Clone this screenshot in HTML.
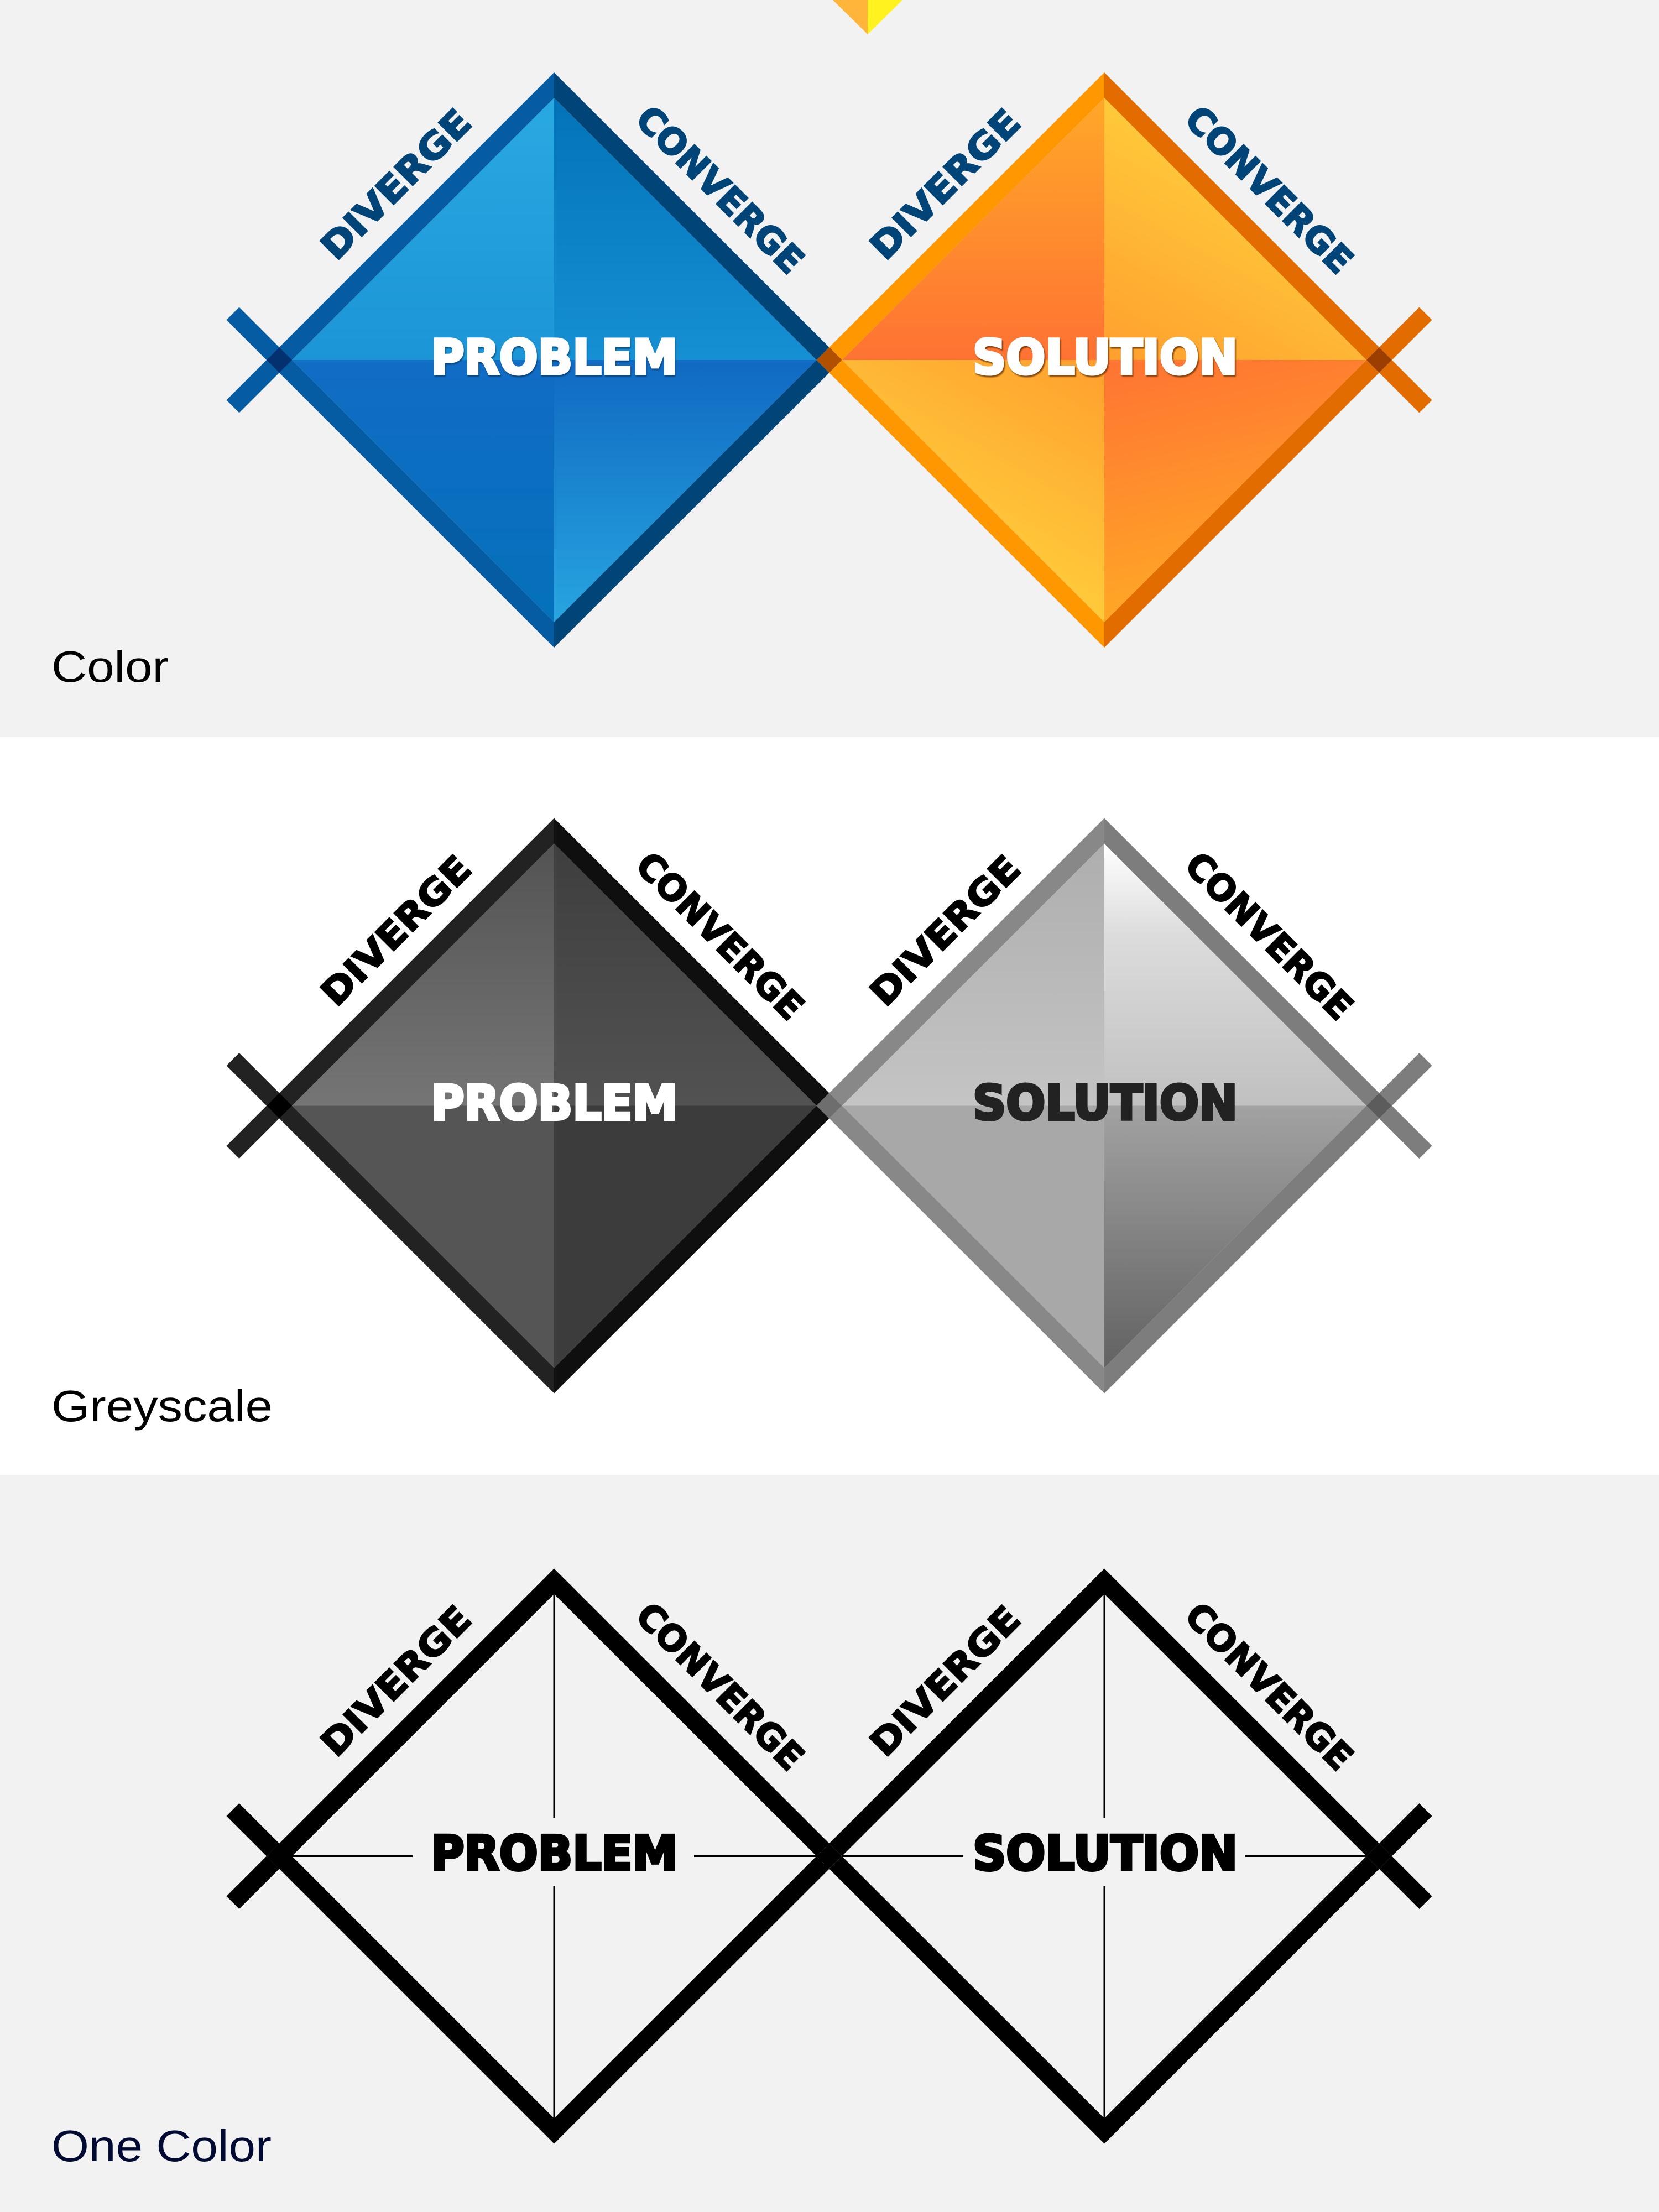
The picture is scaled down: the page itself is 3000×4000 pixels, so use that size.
<!DOCTYPE html>
<html>
<head>
<meta charset="utf-8">
<style>
html,body{margin:0;padding:0;background:#fff}
svg{display:block}
.h{font-family:"DejaVu Sans","Liberation Sans",sans-serif;font-weight:700;font-size:86.5px;stroke-width:5px;stroke-linejoin:miter}
.r{font-family:"DejaVu Sans","Liberation Sans",sans-serif;font-weight:700;font-size:65px;stroke-width:2.5px;stroke-linejoin:miter}
.c{font-family:"Liberation Sans",Arial,sans-serif;font-size:80px}
</style>
</head>
<body>
<svg xmlns="http://www.w3.org/2000/svg" width="3000" height="4000" viewBox="0 0 3000 4000">
<defs>
<linearGradient id="bTL" gradientUnits="userSpaceOnUse" x1="0" y1="177" x2="0" y2="651"><stop offset="0" stop-color="#29a9e2"/><stop offset="1" stop-color="#1c95d6"/></linearGradient>
<linearGradient id="bTR" gradientUnits="userSpaceOnUse" x1="0" y1="177" x2="0" y2="651"><stop offset="0" stop-color="#0373b9"/><stop offset="1" stop-color="#1590d2"/></linearGradient>
<linearGradient id="bBL" gradientUnits="userSpaceOnUse" x1="0" y1="651" x2="0" y2="1125"><stop offset="0" stop-color="#116cc4"/><stop offset="1" stop-color="#0471bb"/></linearGradient>
<linearGradient id="bBR" gradientUnits="userSpaceOnUse" x1="0" y1="651" x2="0" y2="1125"><stop offset="0" stop-color="#1069c2"/><stop offset="1" stop-color="#27a5e0"/></linearGradient>
<linearGradient id="oTL" gradientUnits="userSpaceOnUse" x1="0" y1="177" x2="0" y2="651"><stop offset="0" stop-color="#ffa828"/><stop offset="1" stop-color="#ff7233"/></linearGradient>
<linearGradient id="oTR" gradientUnits="userSpaceOnUse" x1="2197" y1="287" x2="1997" y2="651"><stop offset="0" stop-color="#ffc93a"/><stop offset="1" stop-color="#ff9f2e"/></linearGradient>
<linearGradient id="oBL" gradientUnits="userSpaceOnUse" x1="1997" y1="651" x2="1800" y2="1000"><stop offset="0" stop-color="#ff9f2e"/><stop offset="1" stop-color="#ffc93a"/></linearGradient>
<linearGradient id="oBR" gradientUnits="userSpaceOnUse" x1="1997" y1="651" x2="2100" y2="1100"><stop offset="0" stop-color="#ff7333"/><stop offset="1" stop-color="#ffa726"/></linearGradient>
<linearGradient id="gTL" gradientUnits="userSpaceOnUse" x1="0" y1="177" x2="0" y2="651"><stop offset="0" stop-color="#535353"/><stop offset="1" stop-color="#757575"/></linearGradient>
<linearGradient id="gTR" gradientUnits="userSpaceOnUse" x1="0" y1="177" x2="0" y2="651"><stop offset="0" stop-color="#3e3e3e"/><stop offset="1" stop-color="#525252"/></linearGradient>
<linearGradient id="hTL" gradientUnits="userSpaceOnUse" x1="0" y1="177" x2="0" y2="651"><stop offset="0" stop-color="#aeaeae"/><stop offset="1" stop-color="#c4c4c4"/></linearGradient>
<linearGradient id="hTR" gradientUnits="userSpaceOnUse" x1="0" y1="177" x2="0" y2="651"><stop offset="0" stop-color="#ffffff"/><stop offset="0.35" stop-color="#dcdcdc"/><stop offset="1" stop-color="#c0c0c0"/></linearGradient>
<linearGradient id="hBR" gradientUnits="userSpaceOnUse" x1="0" y1="651" x2="0" y2="1125"><stop offset="0" stop-color="#a2a2a2"/><stop offset="1" stop-color="#626262"/></linearGradient>
</defs>

<rect x="0" y="0" width="3000" height="1333" fill="#f2f2f2"/>
<rect x="0" y="1333" width="3000" height="1334" fill="#ffffff"/>
<rect x="0" y="2667" width="3000" height="1333" fill="#f2f2f2"/>

<polygon points="1506,0 1569,62 1569,0" fill="#ffb53a"/>
<polygon points="1569,0 1569,62 1632,0" fill="#fff21f"/>

<!-- COLOR -->
<g>
<polygon points="1002,651 1002,177 528,651" fill="url(#bTL)"/>
<polygon points="1002,651 1002,177 1476.5,651" fill="url(#bTR)"/>
<polygon points="1002,651 528,651 1002,1125" fill="url(#bBL)"/>
<polygon points="1002,651 1476.5,651 1002,1125" fill="url(#bBR)"/>
<polygon points="1997,651 1997,177 1522.5,651" fill="url(#oTL)"/>
<polygon points="1997,651 1997,177 2471,651" fill="url(#oTR)"/>
<polygon points="1997,651 1522.5,651 1997,1125" fill="url(#oBL)"/>
<polygon points="1997,651 2471,651 1997,1125" fill="url(#oBR)"/>
<polygon points="1002,131 1002,177 528,651 1002,1125 1002,1171 505,674 482,651 505,628" fill="#055ca2"/>
<polygon points="505,628 482,651 409.5,578.5 432.5,555.5" fill="#055ca2"/>
<polygon points="505,674 482,651 409.5,723.5 432.5,746.5" fill="#055ca2"/>
<polygon points="1002,131 1499.5,628 1476.5,651 1499.5,674 1002,1171 1002,1125 1476.5,651 1002,177" fill="#004478"/>
<polygon points="1997,131 1997,177 1522.5,651 1997,1125 1997,1171 1499.5,674 1522.5,651 1499.5,628" fill="#ff9800"/>
<polygon points="1997,131 2494,628 2471,651 2494,674 1997,1171 1997,1125 2471,651 1997,177" fill="#e36c00"/>
<polygon points="2494,628 2517,651 2589.5,578.5 2566.5,555.5" fill="#e36c00"/>
<polygon points="2494,674 2517,651 2589.5,723.5 2566.5,746.5" fill="#e36c00"/>
<polygon points="482,651 505,628 528,651 505,674" fill="#03316f"/>
<polygon points="1476.5,651 1499.5,628 1522.5,651 1499.5,674" fill="#b05000"/>
<polygon points="2471,651 2494,628 2517,651 2494,674" fill="#9c3e00"/>
<text class="h" x="779.5" y="676.2" textLength="446" lengthAdjust="spacingAndGlyphs" fill="#fff" stroke="#fff" style="filter:drop-shadow(1px 3px 1px rgba(0,50,100,.65))">PROBLEM</text>
<text class="h" x="1759" y="676.2" textLength="479" lengthAdjust="spacingAndGlyphs" fill="#fff" stroke="#fff" style="filter:drop-shadow(2px 3px 1px rgba(110,50,0,.8))">SOLUTION</text>
<g fill="#004478" stroke="#004478">
<text class="r" transform="translate(608,473.5) rotate(-45)" textLength="351" lengthAdjust="spacingAndGlyphs">DIVERGE</text>
<text class="r" transform="translate(1146,219) rotate(45)" textLength="396" lengthAdjust="spacingAndGlyphs">CONVERGE</text>
<text class="r" transform="translate(1601,473.5) rotate(-45)" textLength="351" lengthAdjust="spacingAndGlyphs">DIVERGE</text>
<text class="r" transform="translate(2139,219) rotate(45)" textLength="396" lengthAdjust="spacingAndGlyphs">CONVERGE</text>
</g>
</g>
<text class="c" x="93" y="1233" textLength="212" lengthAdjust="spacingAndGlyphs" fill="#000">Color</text>

<!-- GREYSCALE -->
<g transform="translate(0,1348.5)">
<polygon points="1002,651 1002,177 528,651" fill="url(#gTL)"/>
<polygon points="1002,651 1002,177 1476.5,651" fill="url(#gTR)"/>
<polygon points="1002,651 528,651 1002,1125" fill="#555555"/>
<polygon points="1002,651 1476.5,651 1002,1125" fill="#3c3c3c"/>
<polygon points="1997,651 1997,177 1522.5,651" fill="url(#hTL)"/>
<polygon points="1997,651 1997,177 2471,651" fill="url(#hTR)"/>
<polygon points="1997,651 1522.5,651 1997,1125" fill="#a8a8a8"/>
<polygon points="1997,651 2471,651 1997,1125" fill="url(#hBR)"/>
<polygon points="1002,131 1002,177 528,651 1002,1125 1002,1171 505,674 482,651 505,628" fill="#222222"/>
<polygon points="505,628 482,651 409.5,578.5 432.5,555.5" fill="#222222"/>
<polygon points="505,674 482,651 409.5,723.5 432.5,746.5" fill="#222222"/>
<polygon points="1002,131 1499.5,628 1476.5,651 1499.5,674 1002,1171 1002,1125 1476.5,651 1002,177" fill="#0f0f0f"/>
<polygon points="1997,131 1997,177 1522.5,651 1997,1125 1997,1171 1499.5,674 1522.5,651 1499.5,628" fill="#888888"/>
<polygon points="1997,131 2494,628 2471,651 2494,674 1997,1171 1997,1125 2471,651 1997,177" fill="#7d7d7d"/>
<polygon points="2494,628 2517,651 2589.5,578.5 2566.5,555.5" fill="#7d7d7d"/>
<polygon points="2494,674 2517,651 2589.5,723.5 2566.5,746.5" fill="#7d7d7d"/>
<polygon points="482,651 505,628 528,651 505,674" fill="#000000"/>
<polygon points="1476.5,651 1499.5,628 1522.5,651 1499.5,674" fill="#6e6e6e"/>
<polygon points="2471,651 2494,628 2517,651 2494,674" fill="#5c5c5c"/>
<text class="h" x="779.5" y="676.2" textLength="446" lengthAdjust="spacingAndGlyphs" fill="#fff" stroke="#fff">PROBLEM</text>
<text class="h" x="1759" y="676.2" textLength="479" lengthAdjust="spacingAndGlyphs" fill="#222" stroke="#222">SOLUTION</text>
<g fill="#000" stroke="#000">
<text class="r" transform="translate(608,474.5) rotate(-45)" textLength="351" lengthAdjust="spacingAndGlyphs">DIVERGE</text>
<text class="r" transform="translate(1146,220) rotate(45)" textLength="396" lengthAdjust="spacingAndGlyphs">CONVERGE</text>
<text class="r" transform="translate(1601,474.5) rotate(-45)" textLength="351" lengthAdjust="spacingAndGlyphs">DIVERGE</text>
<text class="r" transform="translate(2139,220) rotate(45)" textLength="396" lengthAdjust="spacingAndGlyphs">CONVERGE</text>
</g>
</g>
<text class="c" x="93" y="2570" textLength="400" lengthAdjust="spacingAndGlyphs" fill="#000">Greyscale</text>

<!-- ONE COLOR -->
<g transform="translate(0,2705.5)">
<g stroke="#000" stroke-width="3" fill="none">
<line x1="1002" y1="177" x2="1002" y2="582"/>
<line x1="1002" y1="704.5" x2="1002" y2="1125"/>
<line x1="528" y1="651" x2="746" y2="651"/>
<line x1="1255" y1="651" x2="1476" y2="651"/>
<line x1="1997" y1="177" x2="1997" y2="582"/>
<line x1="1997" y1="704.5" x2="1997" y2="1125"/>
<line x1="1522" y1="651" x2="1742" y2="651"/>
<line x1="2251.5" y1="651" x2="2471" y2="651"/>
</g>
<g fill="#000">
<polygon points="1002,131 1002,177 528,651 1002,1125 1002,1171 505,674 482,651 505,628"/>
<polygon points="505,628 482,651 409.5,578.5 432.5,555.5"/>
<polygon points="505,674 482,651 409.5,723.5 432.5,746.5"/>
<polygon points="1002,131 1499.5,628 1476.5,651 1499.5,674 1002,1171 1002,1125 1476.5,651 1002,177"/>
<polygon points="1997,131 1997,177 1522.5,651 1997,1125 1997,1171 1499.5,674 1522.5,651 1499.5,628"/>
<polygon points="1997,131 2494,628 2471,651 2494,674 1997,1171 1997,1125 2471,651 1997,177"/>
<polygon points="2494,628 2517,651 2589.5,578.5 2566.5,555.5"/>
<polygon points="2494,674 2517,651 2589.5,723.5 2566.5,746.5"/>
<polygon points="482,651 505,628 528,651 505,674"/>
<polygon points="1476.5,651 1499.5,628 1522.5,651 1499.5,674"/>
<polygon points="2471,651 2494,628 2517,651 2494,674"/>
</g>
<text class="h" x="779.5" y="676.2" textLength="446" lengthAdjust="spacingAndGlyphs" fill="#000" stroke="#000">PROBLEM</text>
<text class="h" x="1759" y="676.2" textLength="479" lengthAdjust="spacingAndGlyphs" fill="#000" stroke="#000">SOLUTION</text>
<g fill="#000" stroke="#000">
<text class="r" transform="translate(608,474.5) rotate(-45)" textLength="351" lengthAdjust="spacingAndGlyphs">DIVERGE</text>
<text class="r" transform="translate(1146,220) rotate(45)" textLength="396" lengthAdjust="spacingAndGlyphs">CONVERGE</text>
<text class="r" transform="translate(1601,474.5) rotate(-45)" textLength="351" lengthAdjust="spacingAndGlyphs">DIVERGE</text>
<text class="r" transform="translate(2139,220) rotate(45)" textLength="396" lengthAdjust="spacingAndGlyphs">CONVERGE</text>
</g>
</g>
<text class="c" x="93" y="3908" textLength="398" lengthAdjust="spacingAndGlyphs" fill="#000a33">One Color</text>
</svg>
</body>
</html>
